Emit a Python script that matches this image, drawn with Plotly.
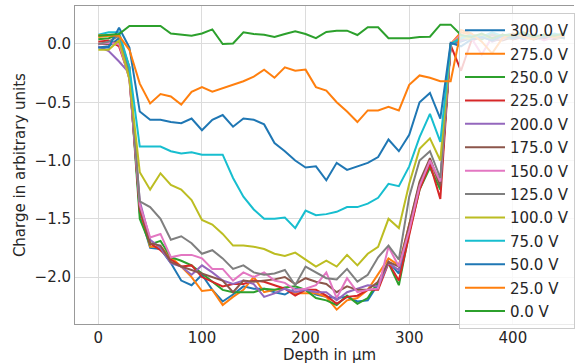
import plotly.graph_objects as go

depth = [0, 10, 20, 30, 40, 50, 60, 70, 80, 90, 100, 110, 120, 130, 140, 150, 160, 170, 180, 190,
         200, 210, 220, 230, 240, 250, 260, 270, 280, 290, 300, 310, 320, 330, 340, 350, 360, 370,
         380, 390, 400, 410, 420, 430, 440, 450]

labels = ["300.0 V", "275.0 V", "250.0 V", "225.0 V", "200.0 V", "175.0 V", "150.0 V",
          "125.0 V", "100.0 V", "75.0 V", "50.0 V", "25.0 V", "0.0 V"]

v300 = [-0.03, -0.02, 0.05, -0.20, -1.45,
        -1.75, -1.76, -1.88, -2.03, -2.07, -1.98, -2.11, -2.21, -2.15, -2.08,
        -2.10, -2.10, -2.13, -2.15, -2.10, -2.11, -2.15, -2.17, -2.18, -2.17,
        -2.21, -2.20, -2.06, -1.87, -1.97, -1.60, -1.22, -1.00, -1.20, 0.00,
        0.02, 0.05, 0.06, 0.03, 0.08, 0.05, 0.07, 0.06, 0.04, 0.07, 0.05]
v275 = [0.06, 0.07, 0.07, -0.20, -1.42,
        -1.74, -1.74, -1.83, -1.91, -2.00, -2.12, -2.11, -2.24, -2.17, -2.11,
        -2.00, -2.13, -2.11, -2.10, -2.14, -2.14, -2.14, -2.17, -2.28, -2.20,
        -2.18, -2.11, -1.97, -1.84, -1.90, -1.55, -1.20, -1.00, -1.22, 0.00,
        0.10, 0.08, 0.06, 0.09, 0.05, 0.07, 0.10, 0.06, 0.08, 0.05, 0.07]
v250 = [0.04, 0.05, 0.08, -0.25, -1.50,
        -1.72, -1.69, -1.83, -1.86, -1.90, -1.97, -2.04, -2.11, -2.13, -2.13,
        -2.13, -2.10, -2.11, -2.09, -2.08, -2.11, -2.18, -2.20, -2.24, -2.16,
        -2.23, -2.18, -2.04, -1.88, -2.07, -1.62, -1.25, -1.06, -1.25, 0.00,
        0.05, 0.07, 0.04, 0.08, 0.06, 0.05, 0.08, 0.07, 0.05, 0.06, 0.08]
v225 = [0.02, 0.03, -0.02, -0.28, -1.42,
        -1.71, -1.77, -1.85, -1.91, -1.90, -2.00, -2.04, -2.08, -2.06, -2.06,
        -2.03, -2.04, -2.07, -2.10, -2.16, -2.11, -2.11, -2.16, -2.23, -2.17,
        -2.16, -2.11, -2.11, -1.88, -2.03, -1.65, -1.25, -1.03, -1.33, -0.01,
        -0.23, 0.03, 0.06, 0.05, 0.08, 0.04, 0.06, 0.07, 0.05, 0.08, 0.06]
v200 = [-0.02, -0.06, -0.15, -0.25, -1.35,
        -1.68, -1.75, -1.88, -1.91, -1.98, -1.90, -1.96, -2.03, -2.06, -2.03,
        -2.06, -2.17, -2.14, -2.10, -2.13, -2.11, -2.13, -2.13, -2.20, -2.13,
        -2.10, -2.07, -2.08, -1.88, -1.94, -1.58, -1.20, -1.00, -1.20, 0.00,
        0.03, 0.06, 0.08, 0.02, 0.05, 0.07, 0.04, 0.06, 0.08, 0.05, 0.07]
v175 = [0.00, 0.00, 0.02, -0.30, -1.40,
        -1.71, -1.73, -1.87, -1.91, -1.94, -1.97, -2.00, -2.03, -2.13, -2.03,
        -2.04, -2.03, -2.02, -2.00, -2.06, -2.01, -2.04, -2.06, -2.13, -2.08,
        -2.11, -2.11, -2.04, -1.87, -1.91, -1.55, -1.18, -0.98, -1.22, 0.00,
        0.06, 0.04, 0.07, 0.05, 0.03, 0.06, 0.08, 0.05, 0.06, 0.04, 0.06]
v150 = [0.00, 0.01, 0.00, -0.30, -1.38,
        -1.66, -1.63, -1.83, -1.81, -1.81, -1.84, -1.93, -1.93, -2.03, -1.96,
        -2.00, -1.96, -2.03, -2.05, -2.11, -2.10, -2.07, -1.96, -2.18, -2.01,
        -2.13, -2.11, -2.10, -1.74, -1.91, -1.60, -1.22, -1.00, -1.18, 0.00,
        0.08, 0.05, -0.09, 0.06, 0.04, 0.08, 0.05, 0.07, 0.03, 0.06, 0.05]
v125 = [0.00, 0.02, 0.07, -0.25, -1.35,
        -1.40, -1.50, -1.68, -1.65, -1.71, -1.80, -1.77, -1.84, -1.93, -1.90,
        -1.96, -1.98, -1.97, -1.94, -2.07, -1.91, -1.96, -2.01, -2.02, -1.93,
        -2.04, -1.98, -1.83, -1.73, -1.85, -1.31, -1.00, -0.92, -1.15, 0.00,
        0.04, 0.07, 0.05, 0.08, 0.06, 0.04, 0.07, 0.05, 0.08, 0.06, 0.05]
v100 = [-0.05, -0.05, 0.03, -0.30, -1.10,
        -1.25, -1.11, -1.21, -1.25, -1.34, -1.51, -1.55, -1.63, -1.73, -1.73,
        -1.74, -1.76, -1.80, -1.82, -1.79, -1.85, -1.91, -1.86, -1.91, -1.81,
        -1.90, -1.80, -1.74, -1.50, -1.58, -1.20, -0.90, -0.81, -1.00, 0.00,
        0.06, 0.04, 0.08, 0.03, 0.07, 0.05, 0.09, 0.04, 0.07, 0.06, 0.05]
v75 = [0.08, 0.10, 0.10, -0.20, -0.88,
       -0.88, -0.88, -0.92, -0.94, -0.93, -0.95, -0.95, -0.95, -1.15, -1.31,
       -1.42, -1.50, -1.50, -1.49, -1.58, -1.43, -1.47, -1.46, -1.44, -1.40,
       -1.40, -1.37, -1.32, -1.20, -1.22, -1.05, -0.80, -0.60, -0.84, 0.00,
       0.05, 0.08, 0.06, 0.10, 0.07, 0.09, 0.05, 0.08, 0.06, 0.09, 0.07]
v50 = [-0.03, -0.03, 0.14, -0.03, -0.58,
       -0.65, -0.65, -0.67, -0.68, -0.64, -0.74, -0.65, -0.61, -0.71, -0.64,
       -0.65, -0.69, -0.85, -0.92, -1.00, -1.06, -1.05, -1.17, -1.02, -1.08,
       -1.05, -1.02, -0.97, -0.82, -0.92, -0.78, -0.50, -0.42, -0.64, 0.01,
       -0.02, 0.04, 0.06, 0.03, 0.07, 0.05, 0.08, 0.04, 0.06, 0.07, 0.05]
v25 = [0.075, 0.075, 0.07, -0.05, -0.34,
       -0.51, -0.43, -0.45, -0.52, -0.41, -0.37, -0.41, -0.38, -0.35, -0.32,
       -0.28, -0.22, -0.29, -0.20, -0.23, -0.22, -0.37, -0.40, -0.50, -0.58,
       -0.67, -0.57, -0.57, -0.54, -0.57, -0.35, -0.27, -0.29, -0.32, -0.32,
       0.12, 0.09, 0.02, -0.08, 0.05, 0.09, 0.06, 0.04, 0.08, 0.06, 0.07]
v0 = [0.07, 0.08, 0.085, 0.155, 0.155,
      0.155, 0.155, 0.09, 0.08, 0.07, 0.09, 0.125, 0.00, 0.005, 0.10,
      0.085, 0.08, 0.06, 0.086, 0.11, 0.086, 0.05, 0.103, 0.114, 0.114,
      0.077, 0.143, 0.143, 0.049, 0.049, 0.049, 0.06, 0.063, 0.166, 0.166,
      0.077, 0.06, 0.09, 0.05, 0.08, 0.07, 0.10, 0.06, 0.08, 0.07, 0.09]

series = [v300, v275, v250, v225, v200, v175, v150, v125, v100, v75, v50, v25, v0]
colors = ["#1f77b4", "#ff7f0e", "#2ca02c", "#d62728", "#9467bd", "#8c564b", "#e377c2",
          "#7f7f7f", "#bcbd22", "#17becf", "#1f77b4", "#ff7f0e", "#2ca02c"]

x_ticks = [0, 100, 200, 300, 400]
y_ticks = [-2.0, -1.5, -1.0, -0.5, 0.0]
y_ticktext = ["\u22122.0", "\u22121.5", "\u22121.0", "\u22120.5", "0.0"]

FONT = "DejaVu Sans"
TXT = "#262626"
FS = 15

fig = go.Figure()
for i, (lab, vals, col) in enumerate(zip(labels, series, colors)):
    fig.add_trace(go.Scatter(
        x=depth, y=vals, mode="lines", name=lab,
        line=dict(color=col, width=2),
        legendgroup=f"g{i}",
    ))

fig.update_layout(
    width=575, height=364,
    margin=dict(l=75, r=0, t=6, b=40),
    paper_bgcolor="white", plot_bgcolor="white",
    font=dict(family=FONT, size=FS, color=TXT),
    showlegend=True,
    legend=dict(
        x=0.77, y=0.978, xanchor="left", yanchor="top",
        bgcolor="rgba(255,255,255,0.8)", bordercolor="#cccccc", borderwidth=1,
        font=dict(family=FONT, size=FS, color=TXT),
        tracegroupgap=0.9, itemwidth=40,
    ),
    xaxis=dict(
        range=[-22.5, 459], tickvals=x_ticks, ticktext=[str(t) for t in x_ticks],
        showgrid=True, gridcolor="#dcdcdc", gridwidth=1, zeroline=False,
        showline=True, linecolor="#999999", linewidth=1, mirror=True,
        ticks="", tickfont=dict(family=FONT, size=FS, color=TXT),
    ),
    yaxis=dict(
        range=[-2.403, 0.326], tickvals=y_ticks, ticktext=y_ticktext,
        showgrid=True, gridcolor="#dcdcdc", gridwidth=1, zeroline=False,
        showline=True, linecolor="#999999", linewidth=1, mirror=False,
        ticks="", tickfont=dict(family=FONT, size=FS, color=TXT),
    ),
    annotations=[
        dict(text="Depth in \u00b5m", xref="paper", yref="paper", x=0.51, y=-0.099,
             xanchor="center", yanchor="middle", showarrow=False,
             font=dict(family=FONT, size=FS, color=TXT)),
        dict(text="Charge in arbitrary units", xref="paper", yref="paper", x=-0.11, y=0.5,
             xanchor="center", yanchor="middle", showarrow=False, textangle=-90,
             font=dict(family=FONT, size=FS, color=TXT)),
    ],
)

fig.write_html("out.html")
